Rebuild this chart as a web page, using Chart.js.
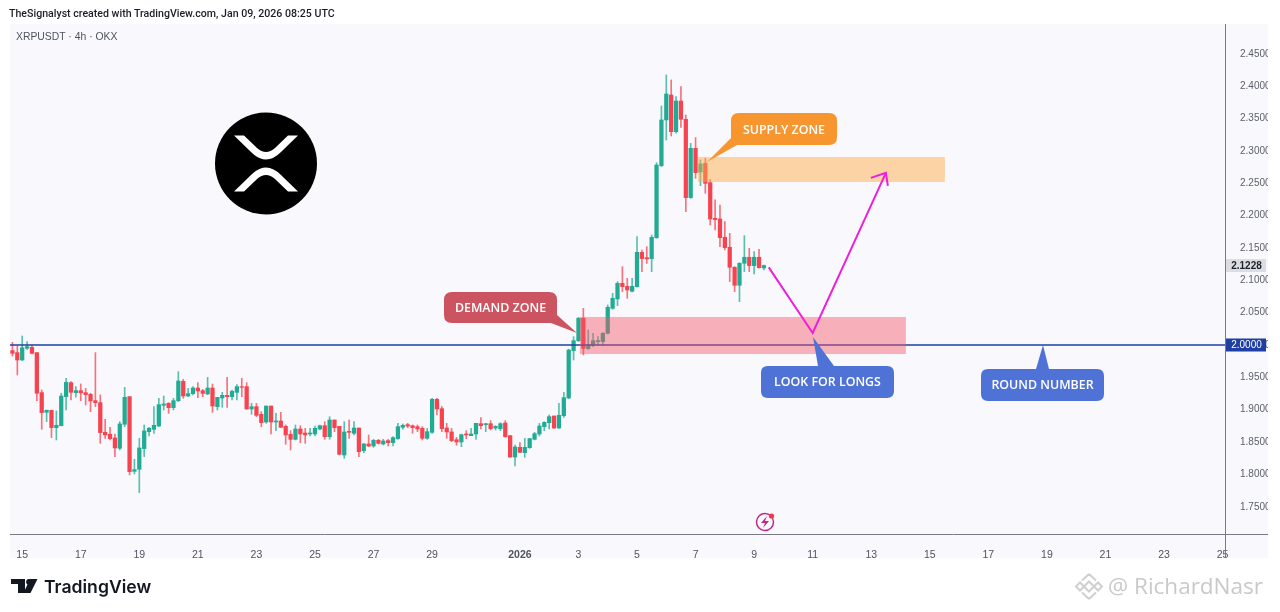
<!DOCTYPE html>
<html><head><meta charset="utf-8">
<script src="https://cdn.jsdelivr.net/npm/chart.js@4/dist/chart.umd.min.js"></script>
<style>
html,body{margin:0;padding:0;background:#fff;width:1280px;height:612px;overflow:hidden}
#wrap{position:relative;width:1280px;height:612px}
canvas{position:absolute;left:0;top:0}
svg{position:absolute;left:0;top:0;pointer-events:none}
#hdr{position:absolute;left:9px;top:7px;font:500 10.6px Roboto,sans-serif;color:#1b1e26;white-space:nowrap}
#sym{position:absolute;left:16px;top:31px;font:10.4px "Liberation Sans",sans-serif;color:#50535e;white-space:nowrap}
</style></head><body><div id="wrap">
<canvas id="c" width="1280" height="612"></canvas>
<svg width="1280" height="612" viewBox="0 0 1280 612" xmlns="http://www.w3.org/2000/svg">
<circle cx="266" cy="163.5" r="51" fill="#000"/>
<path fill="#fff" d="M234 135.5H244L257 148Q266 156 275 148L288 135.5H298L281 152Q266 167 251 152Z"/>
<path fill="#fff" d="M234 191.5H244L257 179Q266 171 275 179L288 191.5H298L281 175Q266 160 251 175Z"/>
<g font-family="'Open Sans',sans-serif" font-weight="600" font-size="12.4" fill="#fff" text-anchor="middle">
<path fill="#f7952f" d="M739 113H829Q837 113 837 121V137Q837 145 829 145H737L707 162L731 138V121Q731 113 739 113Z"/>
<text x="784" y="133.5">SUPPLY ZONE</text>
<path fill="#cc5460" d="M452 292H549Q557 292 557 300V315L577 333L551 323H452Q444 323 444 315V300Q444 292 452 292Z"/>
<text x="500.5" y="312">DEMAND ZONE</text>
<path fill="#4f72d6" d="M813 337L834 366H887Q894 366 894 373V391Q894 398 887 398H768Q761 398 761 391V373Q761 366 768 366H818Z"/>
<text x="827.5" y="386">LOOK FOR LONGS</text>
<path fill="#4f72d6" d="M1043 345L1049 369H1097Q1104 369 1104 376V394Q1104 401 1097 401H988Q981 401 981 394V376Q981 369 988 369H1036Z"/>
<text x="1042.5" y="388.5">ROUND NUMBER</text>
</g>
<circle cx="765" cy="522" r="8.5" fill="none" stroke="#c0278f" stroke-width="1.5"/>
<path fill="#c0278f" d="M767 516L761 523H765L763 528L769 521H765Z"/>
<circle cx="771.5" cy="516" r="2.6" fill="#f23645"/>
<path fill="#131722" d="M11 579H25V593H18V584H11Z"/>
<circle cx="29" cy="581.8" r="2.9" fill="#131722"/>
<path fill="#131722" d="M30.5 593H23.5L30 579H37.5Z"/>
<text x="44" y="592.5" font-family="Inter,sans-serif" font-weight="600" font-size="17.6" fill="#131722">TradingView</text>
<g fill="none" stroke="#cfcfcf" stroke-width="2">
<path d="M1089 574L1096 580.5M1089 574L1082 580.5M1089 599L1096 592.5M1089 599L1082 592.5M1076 586.5L1080 582.5L1084 586.5L1080 590.5ZM1094 586.5L1098 582.5L1102 586.5L1098 590.5ZM1089 581.5L1094 586.5L1089 591.5L1084 586.5Z"/>
</g>
<text x="1108" y="594" font-family="'Open Sans',sans-serif" font-size="22.5" fill="#c9c9c9">@ RichardNasr</text>
</svg>
<div id="hdr">TheSignalyst created with TradingView.com, Jan 09, 2026 08:25 UTC</div>
<div id="sym">XRPUSDT · 4h · OKX</div>
</div>
<script>
const opens=[1.9913,1.9882,1.9768,1.9949,1.9964,1.9882,1.9264,1.8960,1.8991,1.8723,1.8754,1.9202,1.9418,1.9264,1.9295,1.9264,1.9238,1.9140,1.9109,1.8651,1.8620,1.8563,1.8404,1.8775,1.9202,1.8048,1.8079,1.8399,1.8661,1.8697,1.8749,1.9068,1.9099,1.9032,1.9140,1.9439,1.9212,1.9248,
1.9335,1.9294,1.9243,1.9335,1.9047,1.9181,1.9222,1.9201,1.9268,1.9356,1.9356,1.9011,1.9047,1.8929,1.8810,1.9057,1.8810,1.8826,1.8743,1.8619,1.8542,1.8702,1.8640,1.8625,1.8625,1.8702,1.8753,1.8583,1.8841,1.8743,1.8300,1.8666,1.8635,1.8717,1.8367,1.8470,1.8439,1.8527,
1.8470,1.8522,1.8491,1.8553,1.8728,1.8769,1.8753,1.8738,1.8712,1.8558,1.8650,1.9160,1.9016,1.8717,1.8656,1.8537,1.8501,1.8625,1.8599,1.8625,1.8784,1.8769,1.8784,1.8717,1.8707,1.8795,1.8599,1.8269,1.8419,1.8336,1.8413,1.8542,1.8625,1.8738,1.8800,1.8903,1.8717,1.8908,1.9181,
1.9913,2.0067,2.0413,1.9944,2.0000,2.0052,2.0052,2.0181,2.0567,2.0712,2.0953,2.0907,2.0830,2.0902,2.1432,2.1350,2.1334,
2.1659,2.2772,2.3478,2.3864,2.3297,2.3771,2.3488,2.2278,2.3040,2.2674,2.2808,2.2509,2.1958,2.1948,2.1665,2.1510,2.1201,2.0923,2.1263,2.1356,2.1227,2.1356,2.1191];
const highs=[2.0041,1.9985,2.0139,2.0052,2.0000,1.9882,1.9305,1.8996,1.8991,1.8981,1.9254,1.9485,1.9434,1.9357,1.9398,1.9331,1.9254,1.9882,1.9228,1.8852,1.8728,1.8625,1.8816,1.9346,1.9202,1.8234,1.8558,1.8764,1.8728,1.9048,1.9176,1.9212,1.9109,1.9176,1.9588,1.9470,1.9331,1.9357,
1.9418,1.9315,1.9500,1.9397,1.9191,1.9268,1.9500,1.9304,1.9387,1.9485,1.9418,1.9098,1.9098,1.8970,1.9057,1.9057,1.8944,1.8959,1.8764,1.8676,1.8764,1.8753,1.8712,1.8712,1.8748,1.8764,1.8815,1.8892,1.8841,1.8743,1.8815,1.8841,1.8815,1.8717,1.8480,1.8609,1.8542,1.8542,
1.8542,1.8542,1.8583,1.8789,1.8779,1.8789,1.8764,1.8764,1.8738,1.8712,1.9176,1.9176,1.9047,1.8789,1.8712,1.8573,1.8625,1.8676,1.8712,1.8790,1.8877,1.8790,1.8831,1.8753,1.8800,1.8831,1.8599,1.8455,1.8491,1.8558,1.8558,1.8650,1.8790,1.8815,1.8918,1.8903,1.9098,1.9268,1.9935,
2.0129,2.0428,2.0567,2.0232,2.0181,2.0129,2.0191,2.0619,2.0799,2.0979,2.1211,2.1031,2.1031,2.1674,2.1468,2.1520,2.1700,
2.2818,2.3694,2.4173,2.4096,2.3838,2.3993,2.3555,2.3117,2.3205,2.2860,2.2885,2.2561,2.2242,2.2164,2.1907,2.1726,2.1211,2.1273,2.1690,2.1495,2.1443,2.1479,2.1237];
const lows=[1.9830,1.9537,1.9758,1.9933,1.9861,1.9140,1.8697,1.8816,1.8569,1.8532,1.8749,1.8996,1.9150,1.9192,1.9140,1.9073,1.8970,1.9048,1.8481,1.8558,1.8532,1.8275,1.8378,1.8739,1.7992,1.8007,1.7719,1.8275,1.8594,1.8635,1.8739,1.8996,1.8944,1.8996,1.9125,1.9176,1.9202,1.9228,
1.9186,1.9201,1.9232,1.8959,1.8995,1.9037,1.9037,1.9150,1.9150,1.9201,1.9006,1.8929,1.8892,1.8738,1.8790,1.8625,1.8676,1.8728,1.8465,1.8378,1.8532,1.8491,1.8481,1.8594,1.8594,1.8686,1.8542,1.8542,1.8661,1.8300,1.8249,1.8558,1.8609,1.8275,1.8336,1.8429,1.8419,1.8470,
1.8455,1.8439,1.8439,1.8542,1.8697,1.8723,1.8635,1.8661,1.8532,1.8542,1.8635,1.8918,1.8661,1.8558,1.8506,1.8450,1.8429,1.8553,1.8599,1.8542,1.8702,1.8661,1.8686,1.8686,1.8676,1.8573,1.8264,1.8130,1.8336,1.8264,1.8403,1.8532,1.8594,1.8676,1.8702,1.8712,1.8712,1.8882,1.9170,
1.9768,2.0052,1.9846,1.9934,1.9975,2.0000,2.0000,2.0171,2.0552,2.0608,2.0825,2.0722,2.0820,2.0892,2.1134,2.1262,2.1133,
2.1649,2.2757,2.3168,2.3230,2.3272,2.3364,2.2061,2.2267,2.2576,2.2463,2.2345,2.1855,2.1778,2.1520,2.1469,2.0980,2.0825,2.0671,2.1134,2.1134,2.1098,2.1186,2.1160];
const closes=[1.9871,1.9768,1.9959,1.9975,1.9871,1.9254,1.8955,1.8991,1.8723,1.8759,1.9212,1.9423,1.9269,1.9295,1.9259,1.9233,1.9135,1.9109,1.8646,1.8610,1.8553,1.8409,1.8780,1.9192,1.8043,1.8074,1.8409,1.8672,1.8713,1.8759,1.9078,1.9089,1.9032,1.9140,1.9444,1.9212,1.9248,1.9336,
1.9289,1.9253,1.9335,1.9057,1.9191,1.9222,1.9201,1.9284,1.9356,1.9346,1.9011,1.9047,1.8913,1.8800,1.9057,1.8810,1.8826,1.8728,1.8609,1.8542,1.8702,1.8625,1.8609,1.8640,1.8712,1.8753,1.8583,1.8841,1.8723,1.8311,1.8656,1.8650,1.8717,1.8352,1.8470,1.8439,1.8527,1.8480,
1.8517,1.8491,1.8568,1.8738,1.8759,1.8748,1.8723,1.8702,1.8558,1.8661,1.9160,1.9011,1.8707,1.8656,1.8522,1.8501,1.8614,1.8609,1.8625,1.8790,1.8753,1.8784,1.8707,1.8743,1.8784,1.8584,1.8269,1.8424,1.8341,1.8419,1.8553,1.8630,1.8748,1.8805,1.8893,1.8717,1.8913,1.9186,1.9923,
2.0067,2.0413,1.9949,2.0000,2.0067,2.0067,2.0181,2.0583,2.0722,2.0953,2.0902,2.0850,2.0907,2.1432,2.1335,2.1330,2.1664,
2.2782,2.3478,2.3879,2.3297,2.3771,2.3488,2.2278,2.3040,2.2664,2.2798,2.2499,2.1948,2.1938,2.1659,2.1505,2.1201,2.0923,2.1263,2.1356,2.1227,2.1356,2.1196,2.1228];
const candleSlots=opens.map((_,i)=>i);
const xTickSlots=[2,14,26,38,50,62,74,86,104,116,128,140,152,164,176,188,200,212,224,236,248];
const xTickLabels=['15','17','19','21','23','25','27','29','2026','3','5','7','9','11','13','15','17','19','21','23','25'];
const yTickValues=[1.75,1.8,1.85,1.9,1.95,2.0,2.05,2.1,2.15,2.2,2.25,2.3,2.35,2.4,2.45];
const arrowSlots=[155,164,179];
const arrowPrices=[2.12,2.0185,2.266];
const roundNumber=[2.0,2.0];
const roundSlots=[-0.5,248.5];
const zoneSlots={supply:[140.5,191.1],demand:[116.3,183.1]};
const zonePrices={supply:[2.2519,2.2906],demand:[1.9861,2.0433]};
const lastPrice=2.1228;

const UP='#22ab94',DOWN='#f7434f',UPW='rgba(34,171,148,.75)',DOWNW='rgba(247,67,79,.75)';
const isUp=i=>closes[i]>=opens[i];

const panePlugin={id:'pane',
 beforeDraw(c){const x=c.ctx;x.save();x.fillStyle='#f9f9fd';x.fillRect(10,24,1258,534);x.restore();},
 afterDatasetDraw(c,a){
  if(c.data.datasets[a.index].label!=='Round number')return;
  const X=c.scales.x,Y=c.scales.y,x=c.ctx;x.save();
  const box=(k,col)=>{const l=X.getPixelForValue(zoneSlots[k][0]),r=X.getPixelForValue(zoneSlots[k][1]),
    t=Y.getPixelForValue(zonePrices[k][1]),b=Y.getPixelForValue(zonePrices[k][0]);x.fillStyle=col;x.fillRect(l,t,r-l,b-t);};
  box('demand','rgba(243,84,102,.45)');box('supply','rgba(255,170,70,.48)');x.restore();},
 afterDraw(c){
  const X=c.scales.x,Y=c.scales.y,x=c.ctx;x.save();
  x.strokeStyle='#787b86';x.lineWidth=1;x.beginPath();
  x.moveTo(1225.5,24);x.lineTo(1225.5,558);x.moveTo(10,534.5);x.lineTo(1268,534.5);x.stroke();
  const tipX=X.getPixelForValue(arrowSlots[2]),tipY=Y.getPixelForValue(arrowPrices[2]);
  x.strokeStyle='#ee1fd8';x.lineWidth=2;x.beginPath();
  x.moveTo(tipX-15,tipY+5);x.lineTo(tipX,tipY);x.lineTo(tipX+2,tipY+13);x.stroke();
  const tag=(v,bg,fg,txt)=>{const y=Y.getPixelForValue(v);x.fillStyle=bg;x.fillRect(1226,y-6.5,40,13);
    x.fillStyle=fg;x.font=txt;x.textAlign='center';x.textBaseline='middle';x.fillText(v.toFixed(4),1246.5,y+.5);};
  tag(lastPrice,'#dcdde0','#1e222d','bold 10px "Liberation Sans"');
  tag(roundNumber[0],'#1f3fa3','#fff','10px "Liberation Sans"');
  x.restore();}
};

new Chart(document.getElementById('c'),{
 type:'bar',
 data:{datasets:[
  {label:'Wick',order:4,grouped:false,barThickness:1,data:candleSlots.map(i=>({x:i,y:[lows[i],highs[i]]})),
   backgroundColor:candleSlots.map(i=>isUp(i)?UPW:DOWNW)},
  {label:'Body',order:3,grouped:false,barThickness:3.6,data:candleSlots.map(i=>({x:i,y:[opens[i],closes[i]]})),
   backgroundColor:candleSlots.map(i=>isUp(i)?UP:DOWN)},
  {type:'line',label:'Round number',order:2,data:roundSlots.map((s,i)=>({x:s,y:roundNumber[i]})),
   borderColor:'#1f3fa3',borderWidth:1.6,pointRadius:0,clip:false},
  {type:'line',label:'Projection',order:1,data:arrowSlots.map((s,i)=>({x:s,y:arrowPrices[i]})),
   borderColor:'#ee1fd8',borderWidth:2,pointRadius:0,tension:0}
 ]},
 options:{responsive:false,animation:false,devicePixelRatio:1,
  layout:{padding:{left:10,top:24,right:12,bottom:54}},
  plugins:{legend:{display:false},tooltip:{enabled:false}},
  scales:{
   x:{type:'linear',offset:false,min:-0.5,max:248.5,grid:{display:false},border:{display:false},
    afterBuildTicks(s){s.ticks=xTickSlots.map(v=>({value:v}));},
    afterFit(s){s.height=24;},
    ticks:{autoSkip:false,maxRotation:0,padding:7,color:'#50535e',
     callback:v=>xTickLabels[xTickSlots.indexOf(v)],
     font:c=>c.tick&&c.tick.label==='2026'?{family:'"Liberation Sans"',size:10.5,weight:'bold'}:{family:'"Liberation Sans"',size:10.5}}},
   y:{type:'linear',position:'right',min:1.7079,max:2.4961,grid:{display:false},border:{display:false},
    afterBuildTicks(s){s.ticks=yTickValues.map(v=>({value:v}));},
    afterFit(s){s.width=43;},
    ticks:{padding:7,color:'#5d606b',font:{family:'"Liberation Sans"',size:10},callback:v=>v.toFixed(4)}}
  }},
 plugins:[panePlugin]
});
</script></body></html>
